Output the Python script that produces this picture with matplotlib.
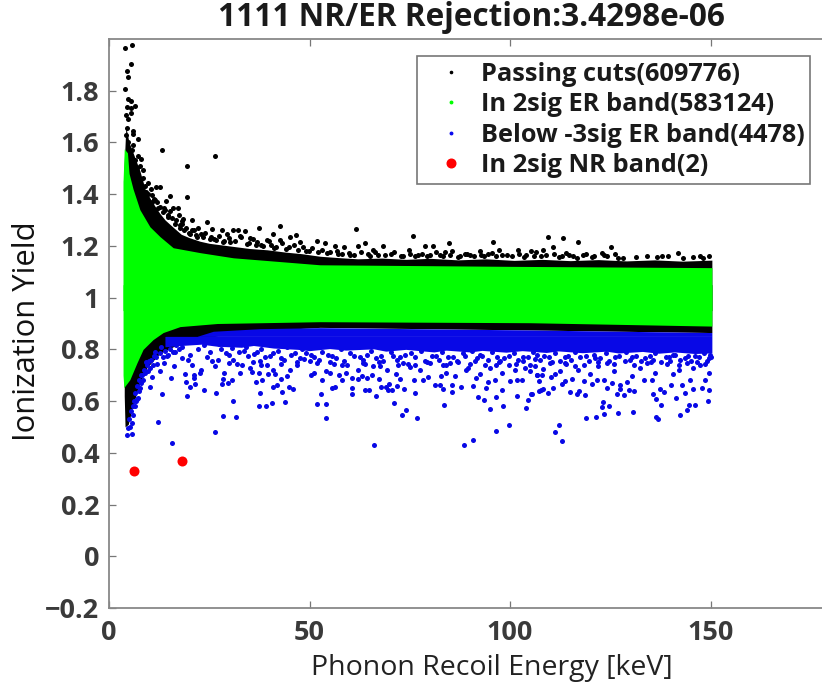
import matplotlib
matplotlib.use("Agg")
import matplotlib.pyplot as plt
from matplotlib.lines import Line2D

# band outlines (energy in keV, yield)
green_e = [3.5, 3.8, 4.6, 5.0, 6.0, 7.7, 10.2, 12.7, 16, 22.7, 31, 52.6, 100, 150.3]
green_top = [1.45, 1.575, 1.56, 1.48, 1.42, 1.34, 1.274, 1.236, 1.193, 1.174, 1.154, 1.127, 1.121, 1.116]
green_low_e = [3.5, 3.7, 5.2, 7, 8.5, 11, 13.5, 17.7, 27, 52.6, 105, 150.3]
green_low = [0.70, 0.652, 0.683, 0.749, 0.80, 0.838, 0.865, 0.888, 0.90, 0.907, 0.903, 0.89]

black_up_e = [3.6, 4.2, 5, 6, 7.7, 9, 10.2, 11.4, 12.7, 14, 16, 18, 20, 22.7, 25, 28, 31, 35, 39.4, 44, 48, 52.6,
              57, 62, 68, 74, 80, 87, 94, 101, 108, 115, 122, 129, 136, 143, 150.3]
black_up = [1.45, 1.66, 1.60, 1.56, 1.49, 1.42, 1.385, 1.355, 1.325, 1.30, 1.272, 1.245, 1.232, 1.218, 1.21, 1.204, 1.198, 1.19,
            1.185, 1.176, 1.17, 1.16, 1.155, 1.15, 1.153, 1.148, 1.152, 1.146, 1.15, 1.144, 1.148, 1.143, 1.147, 1.142, 1.146, 1.141, 1.145]
black_low_e = [3.8, 4.0, 4.8, 6, 7.7, 9.5, 12.7, 16, 22.7, 30, 52.6, 105, 150.3]
black_low = [0.62, 0.50, 0.51, 0.585, 0.67, 0.73, 0.785, 0.81, 0.835, 0.865, 0.885, 0.875, 0.865]

# dense part of the blue cloud, lower edge is uneven in the picture
blue_e = [14, 19.4, 26, 37.6, 52.6, 105, 150.3]
blue_top = [0.81, 0.838, 0.87, 0.88, 0.884, 0.875, 0.865]
blue_bot_e = [14, 18, 23, 27, 33, 36, 41, 47, 50, 55, 59, 66, 69, 74, 81, 84, 90, 93, 99, 103, 109, 112, 118, 124, 127,
              133, 137, 141, 146, 150.3]
blue_bot = [0.81, 0.815, 0.82, 0.812, 0.808, 0.815, 0.805, 0.80, 0.795, 0.803, 0.797, 0.802, 0.793, 0.80, 0.79, 0.797, 0.79,
            0.796, 0.789, 0.795, 0.788, 0.794, 0.787, 0.793, 0.786, 0.792, 0.785, 0.79, 0.784, 0.786]

black_e = [3.9, 5.8, 5.4, 4.5, 4.7, 4.0, 4.8, 5.4, 6.5, 4.4, 5.4, 4.2, 5.5, 4.7, 4.4, 5.9, 5.9, 7.2, 4.2, 4.8,
           6.1, 5.7, 13.1, 19.5, 26.5, 19.5, 7.3, 8.1, 6.5, 7.7, 8.4, 6.5, 9.8, 11.6, 12.8, 8.6, 15.3, 14.2, 10.6, 11.5,
           15.9, 17.2, 14.0, 17.4, 18.5, 20.6, 24.4, 18.1, 15.6, 37.5, 42.7, 40.8, 45.1, 46.5, 31.0, 32.1, 33.9, 28.1, 29.3, 25.6,
           22.3, 20.6, 17.7, 39.3, 42.6, 51.8, 47.6, 35.2, 32.7,
           61.7, 75.8, 109.4, 113.2, 117.0, 95.7, 84.8, 63.8, 62.1, 78.9, 80.8, 58.6, 56.3, 53.8, 68.4, 65.9, 74.9, 83.8, 92.5, 97.2,
           101.9, 105.1, 106.4, 108.1, 110.8, 113.9, 125.1, 122.9, 141.8, 147.3, 137.8, 126.1, 118.2, 88.7, 85.4, 95.4,
           9.2, 10.8, 12.1, 13.4, 14.8, 16.4, 18.8, 19.9, 21.6, 23.4, 25.1, 26.8, 28.7, 30.2, 34.4, 36.6, 38.4, 41.2, 44.2, 49.1,
           54.4, 57.2, 59.8, 61.0, 64.6, 67.1, 70.3, 72.8, 77.1, 79.4, 82.4, 86.9, 90.1, 93.4, 99.2, 103.4, 107.6, 112.1, 115.6, 120.4,
           124.2, 128.1, 131.4, 134.2, 136.6, 139.4, 143.2, 145.6, 148.1, 149.7,
           7.0, 8.0, 8.9, 9.6, 10.4, 11.1, 12.0, 12.6, 13.6, 14.6, 15.2, 16.8, 17.6, 18.2, 19.2, 20.2, 21.2, 22.0, 23.0, 24.0,
           25.4, 26.2, 27.4, 28.4, 29.8, 31.4, 33.0, 34.8, 36.0, 37.0, 38.0, 39.8, 40.4, 41.6, 43.2, 44.8, 46.0, 47.2, 48.4, 49.8,
           50.6, 52.0, 53.0, 55.2, 56.8, 58.0, 60.2, 62.8, 65.0, 66.4, 68.8, 71.0, 73.4, 75.0, 76.4, 78.0, 80.0, 81.6, 83.2, 85.0,
           87.4, 89.2, 91.0, 92.8, 94.6, 96.4, 98.0, 100.4, 102.2, 104.0, 106.0, 109.0, 111.0, 113.0, 114.6, 116.8, 119.0, 121.0, 123.4, 127.0]
black_y = [1.965, 1.975, 1.903, 1.878, 1.852, 1.806, 1.768, 1.76, 1.741, 1.736, 1.732, 1.706, 1.715, 1.69, 1.655, 1.645, 1.633, 1.612, 1.629, 1.603,
           1.591, 1.571, 1.569, 1.51, 1.547, 1.389, 1.548, 1.535, 1.533, 1.51, 1.494, 1.488, 1.443, 1.428, 1.428, 1.462, 1.394, 1.372, 1.398, 1.378,
           1.346, 1.347, 1.34, 1.32, 1.304, 1.301, 1.292, 1.295, 1.307, 1.269, 1.277, 1.247, 1.235, 1.241, 1.262, 1.262, 1.256, 1.262, 1.247, 1.265,
           1.269, 1.262, 1.269, 1.224, 1.224, 1.22, 1.217, 1.23, 1.237,
           1.265, 1.237, 1.233, 1.23, 1.216, 1.214, 1.21, 1.21, 1.2, 1.201, 1.201, 1.194, 1.198, 1.211, 1.201, 1.185, 1.185, 1.176, 1.181, 1.185,
           1.185, 1.179, 1.176, 1.184, 1.196, 1.172, 1.196, 1.172, 1.172, 1.162, 1.162, 1.17, 1.166, 1.17, 1.179, 1.172,
           1.41, 1.37, 1.345, 1.33, 1.31, 1.285, 1.262, 1.25, 1.242, 1.236, 1.228, 1.222, 1.218, 1.214, 1.206, 1.204, 1.198, 1.192, 1.188, 1.18,
           1.172, 1.168, 1.172, 1.166, 1.17, 1.164, 1.168, 1.162, 1.166, 1.16, 1.164, 1.158, 1.164, 1.16, 1.166, 1.158, 1.162, 1.156, 1.16, 1.156,
           1.16, 1.154, 1.158, 1.162, 1.156, 1.16, 1.154, 1.158, 1.155, 1.16,
           1.50, 1.46, 1.43, 1.40, 1.42, 1.38, 1.37, 1.35, 1.345, 1.32, 1.335, 1.30, 1.28, 1.285, 1.27, 1.245, 1.26, 1.235, 1.245, 1.25,
           1.235, 1.225, 1.24, 1.215, 1.23, 1.22, 1.235, 1.21, 1.225, 1.215, 1.205, 1.22, 1.205, 1.195, 1.21, 1.195, 1.205, 1.185, 1.195, 1.18,
           1.19, 1.175, 1.185, 1.175, 1.18, 1.17, 1.165, 1.175, 1.16, 1.175, 1.165, 1.175, 1.16, 1.17, 1.16, 1.17, 1.165, 1.175, 1.16, 1.165,
           1.16, 1.17, 1.16, 1.165, 1.17, 1.16, 1.165, 1.16, 1.17, 1.165, 1.16, 1.165, 1.17, 1.16, 1.165, 1.155, 1.17, 1.16, 1.165, 1.155]

blue_pts_e = [4.4, 5.8, 12.3, 15.7, 26.5, 28.3, 31.6, 30.8, 13.2, 19.5, 26.8, 23.8, 10.2, 19.1, 20.1, 21.4, 15.4, 18.9, 21.1, 21.2,
              23.0, 22.7, 28.2, 29.6, 30.7, 28.5, 28.6, 32.7, 36.6, 38.2, 37.6, 37.5, 39.1, 40.6, 44.0, 51.8, 41.0, 41.8, 43.1, 44.9,
              45.8, 42.9, 44.3, 39.7, 41.4, 50.3, 35.6, 37.4, 26.4, 20.6, 16.2, 12.7, 10.6, 7.7, 6.5, 6.1, 5.7, 4.8, 7.3, 8.6,
              10.2, 14.4, 13.6, 18.1, 19.8, 24.4, 25.6, 29.8, 31.0, 33.1, 35.2, 37.6, 39.3, 41.0, 43.0, 45.1, 46.8, 48.5, 51.0, 51.8,
              66.0, 88.6, 90.8, 96.4, 99.6, 54.2, 54.0, 73.0, 74.0, 76.8, 71.0, 83.6, 95.0, 98.2, 103.9, 92.0, 93.6, 96.4, 101.8, 104.5,
              105.3, 52.9, 60.5, 66.6, 76.2, 55.5, 56.3, 60.7, 63.8, 64.8, 67.8, 69.0, 69.6, 70.6, 71.9, 73.5, 81.3, 82.6, 83.2, 85.6,
              85.5, 87.8, 90.7, 94.0, 97.9, 107.3, 53.0, 58.2, 62.2, 64.2, 67.2, 69.9, 72.5, 76.1, 78.4, 79.6, 82.7, 86.3, 91.4, 92.5,
              94.4, 96.2, 100.0, 101.6, 102.9, 106.6, 54.0, 55.0, 57.3, 59.2, 60.5, 62.0, 63.0, 65.5, 69.2, 71.5, 75.0, 77.5, 84.0, 88.9,
              95.0, 98.1, 101.2, 103.7, 56.0, 58.0, 63.4, 65.9, 67.6, 73.4, 76.3, 80.0, 83.3, 85.0, 89.6, 91.2, 96.6, 99.6, 103.3, 106.2,
              112.9, 111.3, 112.1, 119.0, 121.4, 123.4, 126.9, 130.7, 136.4, 136.8, 142.3, 144.1, 144.6, 146.1, 149.3, 123.0, 123.1, 124.6, 137.7, 136.3,
              135.7, 141.4, 105.4, 109.5, 107.7, 108.3, 110.6, 115.0, 116.6, 117.1, 118.6, 124.1, 126.7, 127.4, 128.4, 129.6, 130.8, 138.4, 137.4, 143.5,
              145.7, 147.8, 149.5, 107.2, 112.9, 113.7, 118.3, 120.4, 121.6, 125.4, 127.3, 129.1, 133.3, 135.3, 140.0, 142.8, 144.9, 148.6, 106.7, 108.0,
              110.2, 111.2, 115.4, 120.0, 123.3, 130.3, 140.7, 149.5, 112.5, 108.3, 105.0, 117.0, 122.0, 125.8, 132.4, 136.2, 142.0, 145.7, 147.4, 106.2,
              110.0, 113.7, 116.2, 124.1, 128.7, 134.1, 139.9, 144.0, 149.5,
              16.5, 18.2, 20.3, 22.1, 23.8, 25.2, 27.4, 29.1, 30.6, 32.4, 34.1, 36.2, 38.0, 40.2, 42.1, 44.4, 46.3, 48.2, 50.4, 53.2,
              55.7, 57.8, 60.1, 62.6, 65.2, 67.9, 70.2, 72.6, 75.4, 77.8, 80.6, 83.1, 85.7, 88.2, 90.4, 93.1, 95.6, 98.4, 100.9, 103.2,
              105.8, 108.4, 111.1, 113.6, 116.1, 118.9, 121.2, 123.8, 126.2, 128.9, 131.3, 133.7, 136.1, 138.8, 141.2, 143.6, 146.1, 148.3, 150.0, 6.8,
              7.9, 9.2, 11.4, 13.0, 14.9,
              28.0, 30.0, 33.6, 34.6, 36.8, 39.0, 40.8, 43.6, 45.4, 47.6, 49.2, 51.2, 52.4, 54.6, 56.6, 58.6, 61.2, 63.2, 64.4, 66.6,
              68.4, 70.8, 71.8, 73.8, 76.2, 78.8, 81.4, 82.2, 84.6, 86.8, 88.8, 91.8, 92.6, 94.4, 96.8, 97.6, 99.8, 102.0, 104.4, 106.6,
              107.4, 109.8, 112.4, 114.4, 115.2, 117.4, 119.6, 120.8, 122.4, 124.6, 127.2, 129.8, 130.4, 132.6, 134.8, 135.6, 137.6, 139.6, 140.6, 142.4,
              144.4, 145.2, 147.2, 149.0, 149.8, 27.2, 31.8, 35.8, 37.8, 42.8, 46.8, 50.0, 55.0, 59.4, 63.8, 67.4, 72.0, 74.6, 79.2, 84.0,
              87.0, 90.0, 93.8, 97.2, 101.4, 105.0, 110.4, 114.0, 118.4, 122.0, 126.0, 131.0, 135.0, 139.0, 142.0, 146.6, 148.6,
              5.0, 5.4, 6.2, 6.6, 7.0, 7.4, 7.6, 8.2, 8.8, 9.4, 9.8, 10.4, 11.0, 11.6, 12.0, 12.6, 13.4, 14.0, 14.6, 15.2,
              16.0, 16.8, 17.4, 5.2, 6.0, 6.9, 8.0, 9.0, 10.0, 11.2]
blue_pts_y = [0.467, 0.474, 0.52, 0.439, 0.479, 0.544, 0.537, 0.601, 0.628, 0.62, 0.633, 0.642, 0.656, 0.672, 0.656, 0.667, 0.691, 0.703, 0.70, 0.69,
              0.722, 0.707, 0.666, 0.671, 0.681, 0.687, 0.707, 0.709, 0.673, 0.682, 0.632, 0.58, 0.58, 0.591, 0.595, 0.59, 0.654, 0.662, 0.637, 0.653,
              0.645, 0.686, 0.696, 0.703, 0.703, 0.699, 0.713, 0.709, 0.735, 0.738, 0.735, 0.716, 0.694, 0.651, 0.58, 0.548, 0.516, 0.497, 0.613, 0.683,
              0.729, 0.774, 0.748, 0.767, 0.758, 0.771, 0.754, 0.748, 0.758, 0.741, 0.729, 0.754, 0.741, 0.722, 0.767, 0.722, 0.741, 0.761, 0.709, 0.748,
              0.432, 0.43, 0.448, 0.485, 0.506, 0.533, 0.587, 0.548, 0.566, 0.535, 0.592, 0.583, 0.57, 0.582, 0.572, 0.614, 0.604, 0.614, 0.62, 0.606,
              0.627, 0.626, 0.628, 0.62, 0.633, 0.651, 0.655, 0.65, 0.644, 0.641, 0.655, 0.655, 0.644, 0.644, 0.66, 0.645, 0.662, 0.663, 0.647, 0.662,
              0.637, 0.653, 0.659, 0.649, 0.644, 0.64, 0.683, 0.682, 0.687, 0.69, 0.687, 0.668, 0.687, 0.68, 0.683, 0.692, 0.698, 0.698, 0.69, 0.703,
              0.674, 0.68, 0.676, 0.68, 0.683, 0.70, 0.718, 0.707, 0.699, 0.707, 0.69, 0.722, 0.696, 0.70, 0.722, 0.703, 0.731, 0.722, 0.709, 0.72,
              0.728, 0.709, 0.722, 0.728, 0.745, 0.741, 0.748, 0.735, 0.735, 0.748, 0.741, 0.748, 0.741, 0.748, 0.728, 0.754, 0.741, 0.741, 0.754, 0.735,
              0.445, 0.48, 0.507, 0.533, 0.538, 0.55, 0.553, 0.556, 0.539, 0.529, 0.547, 0.566, 0.586, 0.583, 0.601, 0.578, 0.595, 0.582, 0.586, 0.61,
              0.627, 0.613, 0.626, 0.632, 0.642, 0.647, 0.651, 0.634, 0.627, 0.638, 0.624, 0.651, 0.628, 0.645, 0.623, 0.641, 0.638, 0.635, 0.645, 0.632,
              0.645, 0.651, 0.642, 0.677, 0.668, 0.677, 0.677, 0.668, 0.68, 0.671, 0.662, 0.673, 0.683, 0.682, 0.662, 0.664, 0.683, 0.683, 0.70, 0.70,
              0.694, 0.703, 0.687, 0.703, 0.683, 0.696, 0.703, 0.707, 0.716, 0.725, 0.716, 0.722, 0.735, 0.716, 0.728, 0.709, 0.72, 0.728, 0.741, 0.761,
              0.748, 0.748, 0.735, 0.748, 0.754, 0.748, 0.754, 0.748, 0.767,
              0.79, 0.81, 0.78, 0.80, 0.815, 0.79, 0.82, 0.785, 0.805, 0.79, 0.81, 0.782, 0.80, 0.775, 0.795, 0.81, 0.785, 0.80, 0.778, 0.79,
              0.775, 0.80, 0.785, 0.77, 0.795, 0.775, 0.79, 0.77, 0.785, 0.795, 0.775, 0.79, 0.77, 0.785, 0.795, 0.775, 0.79, 0.765, 0.785, 0.77,
              0.79, 0.775, 0.785, 0.77, 0.79, 0.775, 0.765, 0.785, 0.77, 0.79, 0.775, 0.765, 0.785, 0.77, 0.78, 0.765, 0.775, 0.785, 0.77, 0.60,
              0.70, 0.75, 0.79, 0.81, 0.83,
              0.80, 0.78, 0.795, 0.775, 0.79, 0.77, 0.785, 0.76, 0.78, 0.765, 0.785, 0.77, 0.76, 0.78, 0.765, 0.755, 0.775, 0.76, 0.78, 0.765,
              0.755, 0.775, 0.76, 0.78, 0.77, 0.755, 0.775, 0.76, 0.77, 0.755, 0.775, 0.765, 0.78, 0.76, 0.77, 0.755, 0.775, 0.76, 0.77, 0.78,
              0.76, 0.77, 0.755, 0.775, 0.76, 0.77, 0.755, 0.78, 0.765, 0.755, 0.775, 0.76, 0.77, 0.755, 0.775, 0.76, 0.75, 0.77, 0.78, 0.76,
              0.775, 0.755, 0.77, 0.755, 0.78, 0.76, 0.745, 0.75, 0.74, 0.745, 0.75, 0.755, 0.75, 0.74, 0.745, 0.75, 0.74, 0.745, 0.75, 0.74,
              0.75, 0.745, 0.74, 0.75, 0.745, 0.74, 0.75, 0.745, 0.74, 0.75, 0.745, 0.74, 0.75, 0.745, 0.74, 0.75, 0.745,
              0.53, 0.56, 0.60, 0.63, 0.66, 0.64, 0.68, 0.70, 0.72, 0.74, 0.715, 0.76, 0.74, 0.77, 0.745, 0.785, 0.77, 0.795, 0.78, 0.80,
              0.79, 0.815, 0.80, 0.50, 0.58, 0.61, 0.67, 0.71, 0.755, 0.775]

red_e = [6.2, 18.3]
red_y = [0.331, 0.369]

legend_labels = ["Passing cuts(609776)", "In 2sig ER band(583124)", "Below -3sig ER band(4478)", "In 2sig NR band(2)"]
x_ticks = [0, 50, 100, 150]
y_ticks = [-0.2, 0, 0.2, 0.4, 0.6, 0.8, 1, 1.2, 1.4, 1.6, 1.8]
y_tick_labels = ["\u22120.2", "0", "0.2", "0.4", "0.6", "0.8", "1", "1.2", "1.4", "1.6", "1.8"]

W, H = 822, 690
fig = plt.figure(figsize=(W / 100, H / 100), dpi=100)
# the picture is cropped on the right, so the axes run past the figure edge
ax = fig.add_axes([109 / W, 1 - 608 / H, 722 / W, 569 / H])

ax.fill_between(black_up_e, black_up, 0.95, color="black", lw=0)
ax.fill_between(black_low_e, black_low, 1.05, color="black", lw=0)
ax.scatter(black_e, black_y, s=13, c="black", linewidths=0)
ax.fill_between(green_e, green_top, 0.95, color="#00ff00", lw=0)
ax.fill_between(green_low_e, green_low, 1.05, color="#00ff00", lw=0)
ax.fill_between(blue_e, blue_top, 0.85, color="#0808e6", lw=0)
ax.fill_between(blue_bot_e, blue_bot, 0.85, color="#0808e6", lw=0)
ax.scatter(blue_pts_e, blue_pts_y, s=13, c="#0808e6", linewidths=0)
ax.scatter(red_e, red_y, s=52, c="#ff0000", linewidths=0)

ax.set_xlim(0, 180)
ax.set_ylim(-0.2, 2.0)
ax.set_xticks(x_ticks)
ax.set_yticks(y_ticks)
ax.set_yticklabels(y_tick_labels)
ax.tick_params(direction="in", top=True, right=True, length=5, width=0.9, color="#777777",
               labelcolor="#3a3a3a", labelsize=19.5)
ax.tick_params(axis="x", pad=9)
ax.tick_params(axis="y", pad=7)
for lab in ax.get_xticklabels() + ax.get_yticklabels():
    lab.set_fontweight("bold")
    lab.set_family("Open Sans")
for sp in ax.spines.values():
    sp.set_color("#888888")
    sp.set_linewidth(1.3)

ax.set_xlabel("Phonon Recoil Energy [keV]", fontsize=20.5, family="Open Sans", color="#222222")
ax.xaxis.set_label_coords(383 / 722, -46 / 569)
ax.set_ylabel("Ionization Yield", fontsize=22.3, family="Open Sans", color="#111111")
ax.yaxis.set_label_coords(-67 / 722, 277 / 569)
fig.text(471 / W, 1 - 18 / H, "1111 NR/ER Rejection:3.4298e-06", fontsize=22.7, fontweight="bold", family="Open Sans",
         color="#1a1a1a", ha="center", va="center")

handles = [Line2D([], [], ls="", marker="o", ms=1.6, color="black"),
           Line2D([], [], ls="", marker="o", ms=1.8, color="#00ff00"),
           Line2D([], [], ls="", marker="o", ms=1.8, color="#0a0aee"),
           Line2D([], [], ls="", marker="o", ms=6.2, color="#ff0000")]
leg = fig.legend(handles, legend_labels, loc="upper left", bbox_to_anchor=(417 / W, 1 - 56 / H),
                 bbox_transform=fig.transFigure, borderaxespad=0, frameon=True, fancybox=False,
                 framealpha=1, edgecolor="#777777", prop={"size": 18.3, "weight": "bold", "family": "Open Sans"},
                 labelspacing=0.22, handletextpad=0.06, borderpad=0.22, handlelength=2.24)
leg.get_frame().set_linewidth(1.2)
for t in leg.get_texts():
    t.set_color("#1a1a1a")

fig.savefig("out.png", dpi=100)
